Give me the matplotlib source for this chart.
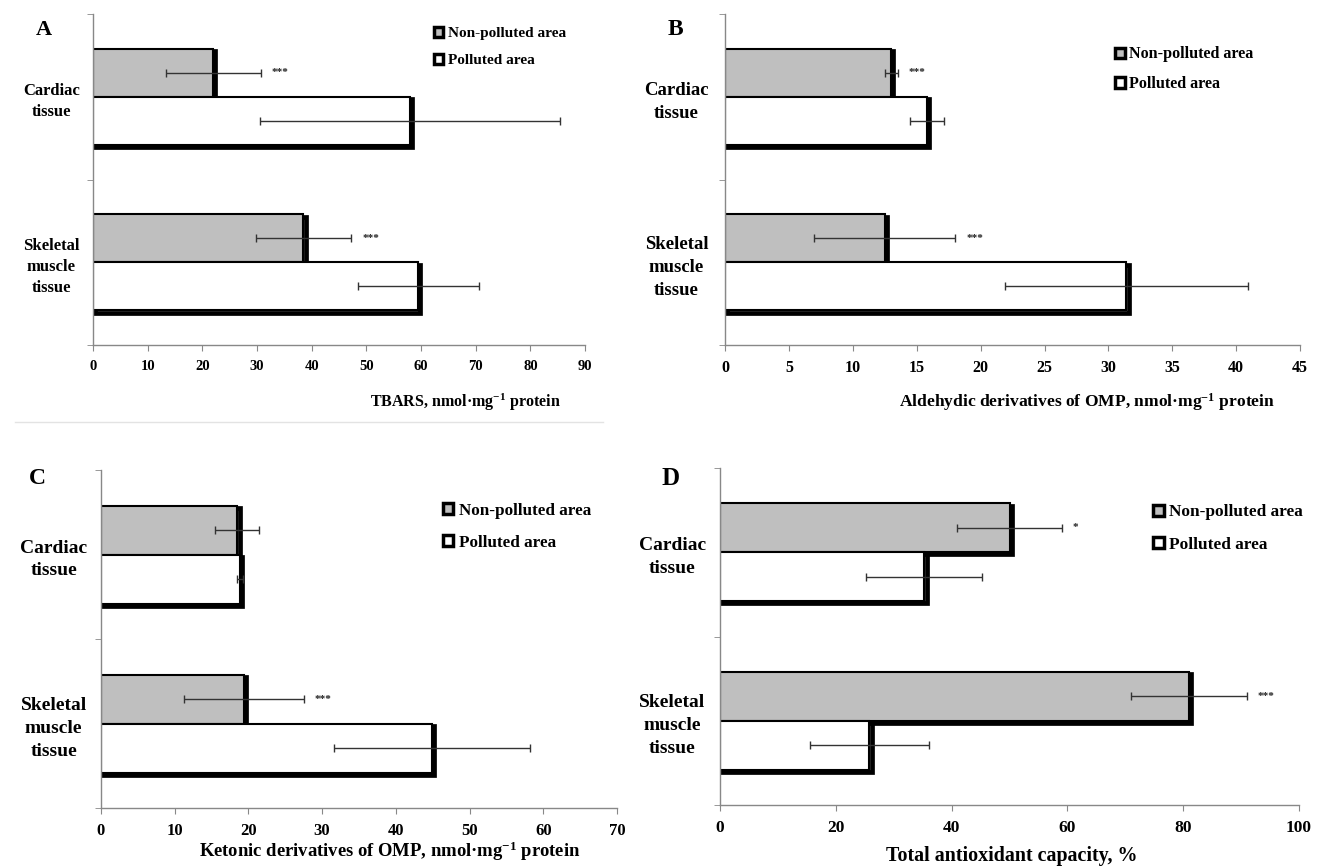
import numpy as np
import matplotlib
matplotlib.use("Agg")
import matplotlib.pyplot as plt
import matplotlib.patheffects as pe
from matplotlib.patches import Patch

plt.rcParams['font.family'] = ['Liberation Serif', 'DejaVu Serif']
plt.rcParams['font.weight'] = 'bold'
plt.rcParams['mathtext.fontset'] = 'custom'
plt.rcParams['mathtext.rm'] = 'Liberation Serif:bold'
plt.rcParams['mathtext.bf'] = 'Liberation Serif:bold'
plt.rcParams['mathtext.it'] = 'Liberation Serif:bold'

# data
tissues = ['Cardiac\ntissue', 'Skeletal\nmuscle\ntissue']
groups = ['Non-polluted area', 'Polluted area']
sup = r'$^{-1}$'

# A: TBARS
a_np = [22.0, 38.5]
a_np_err = [8.7, 8.7]
a_p = [58.0, 59.5]
a_p_err = [27.5, 11.1]
a_stars = ['***', '***']

# B: aldehydic derivatives
b_np = [13.0, 12.5]
b_np_err = [0.5, 5.5]
b_p = [15.8, 31.4]
b_p_err = [1.3, 9.5]
b_stars = ['***', '***']

# C: ketonic derivatives
c_np = [18.5, 19.4]
c_np_err = [3.0, 8.1]
c_p = [18.9, 44.9]
c_p_err = [0.4, 13.3]
c_stars = ['', '***']

# D: total antioxidant capacity
d_np = [50.0, 81.0]
d_np_err = [9.0, 10.0]
d_p = [35.3, 25.8]
d_p_err = [10.0, 10.3]
d_stars = ['*', '***']

# layout per panel (font sizes differ a little, as in the original figure)
panels = [
    dict(letter='A', np_=a_np, npe=a_np_err, p=a_p, pe_=a_p_err, stars=a_stars,
         xmax=90, step=10, xlabel='TBARS, nmol·mg' + sup + ' protein',
         rect=[0.0702, 0.6025, 0.3713, 0.3813], lab=(0.756, -0.172),
         leg=(0.3275, 0.969), let=(0.027, 0.966), pad=30,
         fs_tick=10.5, fs_cat=12, fs_leg=11, fs_lab=11.5, fs_let=16, lsp=0.9),
    dict(letter='B', np_=b_np, npe=b_np_err, p=b_p, pe_=b_p_err, stars=b_stars,
         xmax=45, step=5, xlabel='Aldehydic derivatives of OMP, nmol·mg' + sup + ' protein',
         rect=[0.5472, 0.6025, 0.434, 0.3813], lab=(0.63, -0.172),
         leg=(0.8415, 0.9465), let=(0.504, 0.966), pad=35,
         fs_tick=11.5, fs_cat=13.5, fs_leg=11.6, fs_lab=12.6, fs_let=17, lsp=0.85),
    dict(letter='C', np_=c_np, npe=c_np_err, p=c_p, pe_=c_p_err, stars=c_stars,
         xmax=70, step=10, xlabel='Ketonic derivatives of OMP, nmol·mg' + sup + ' protein',
         rect=[0.0762, 0.0691, 0.3894, 0.3894], lab=(0.56, -0.127),
         leg=(0.3345, 0.421), let=(0.022, 0.449), pad=34,
         fs_tick=12, fs_cat=14, fs_leg=12.3, fs_lab=13.4, fs_let=17, lsp=0.95),
    dict(letter='D', np_=d_np, npe=d_np_err, p=d_p, pe_=d_p_err, stars=d_stars,
         xmax=100, step=20, xlabel='Total antioxidant capacity, %',
         rect=[0.5434, 0.0726, 0.437, 0.3882], lab=(0.504, -0.151),
         leg=(0.8705, 0.419), let=(0.499, 0.449), pad=34.5,
         fs_tick=12.5, fs_cat=14, fs_leg=12.4, fs_lab=14.4, fs_let=18, lsp=0.95),
]

fig = plt.figure(figsize=(13.25, 8.68), dpi=100)
# thick right/bottom border like the original "shadowed" bars
border = [pe.Stroke(offset=(1.6, -1.6), linewidth=3.4, foreground='black'), pe.Normal()]
y = np.arange(len(tissues))
h = 0.29

for pnl in panels:
    ax = fig.add_axes(pnl['rect'])
    ax.barh(y - h / 2, pnl['np_'], height=h, color='#bfbfbf', edgecolor='black',
            linewidth=1.5, path_effects=border, zorder=2)
    ax.barh(y + h / 2, pnl['p'], height=h, color='white', edgecolor='black',
            linewidth=1.5, path_effects=border, zorder=2)
    ax.errorbar(pnl['np_'], y - h / 2, xerr=pnl['npe'], fmt='none', ecolor='#333333',
                elinewidth=1, capsize=3, capthick=1, zorder=3)
    ax.errorbar(pnl['p'], y + h / 2, xerr=pnl['pe_'], fmt='none', ecolor='#333333',
                elinewidth=1, capsize=3, capthick=1, zorder=3)
    for i, s in enumerate(pnl['stars']):
        if s:
            ax.annotate(s, (pnl['np_'][i] + pnl['npe'][i], y[i] - h / 2),
                        xytext=(8, 0), textcoords='offset points',
                        fontsize=8, va='center', ha='left', color='#222222')

    ax.set_xlim(0, pnl['xmax'])
    ax.set_ylim(1.5, -0.5)
    ax.set_xticks(np.arange(0, pnl['xmax'] + 1, pnl['step']))
    ax.set_yticks(y)
    ax.set_yticklabels(tissues, fontsize=pnl['fs_cat'], ha='center', linespacing=1.45)
    ax.set_yticks([-0.5, 0.5, 1.5], minor=True)
    ax.tick_params(axis='y', which='major', length=0, pad=pnl['pad'])
    ax.tick_params(axis='y', which='minor', length=4, color='#888888', direction='out')
    ax.tick_params(axis='x', length=4, color='#888888', labelsize=pnl['fs_tick'], pad=7)
    for lbl in ax.get_xticklabels():
        lbl.set_fontweight('bold')
    for side in ['top', 'right']:
        ax.spines[side].set_visible(False)
    for side in ['left', 'bottom']:
        ax.spines[side].set_color('#888888')
        ax.spines[side].set_linewidth(1)

    ax.set_xlabel(pnl['xlabel'], fontsize=pnl['fs_lab'], fontweight='bold', va='center')
    ax.xaxis.set_label_coords(*pnl['lab'])

    handles = [Patch(facecolor='#bfbfbf', edgecolor='black', linewidth=2.5),
               Patch(facecolor='white', edgecolor='black', linewidth=2.5)]
    fig.legend(handles, groups, loc='upper left', bbox_to_anchor=pnl['leg'],
               frameon=False, fontsize=pnl['fs_leg'], handlelength=0.6, handleheight=0.6,
               handletextpad=0.3, labelspacing=pnl['lsp'], borderaxespad=0, borderpad=0)

    fig.text(pnl['let'][0], pnl['let'][1], pnl['letter'], fontsize=pnl['fs_let'],
             fontweight='bold', va='center', ha='left')

# faint separator under panel A
fig.add_artist(plt.Line2D([0.011, 0.455], [0.514, 0.514], color='#e3e3e3', lw=1))

fig.savefig('out.png', dpi=100)
